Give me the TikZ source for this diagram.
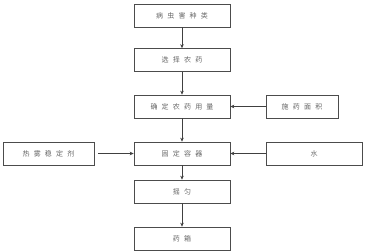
\documentclass[tikz,border=0pt]{standalone}
\usepackage{fontspec}
\newfontfamily\cjk[LetterSpace=60]{Noto Sans CJK SC}
\usetikzlibrary{arrows.meta,positioning}

\begin{document}
\begin{tikzpicture}[x=1pt,y=-1pt]
            \tikzset{
                step box/.style={
                    draw=black!70,
                    line width=0.6pt,
                    minimum width=96pt,
                    minimum height=23pt,
                    align=center,
                    text=black!60,
                    font=\cjk\fontsize{7}{8}\selectfont
                }
            }
            \tikzset{
                flow/.style={
                    -{Stealth[length=4pt,width=3.5pt]},
                    black!75,
                    line width=0.6pt
                }
            }

            \useasboundingbox (0,0) rectangle (365,252);

            \node[step box] (pest) at (182,15.5) {病虫害种类};
            \node[step box] (choose) at (182,60) {选择农药};
            \node[step box] (dose) at (182,106.5) {确定农药用量};
            \node[step box] (fix) at (182,153.5) {固定容器};
            \node[step box] (shake) at (182,191.5) {摇匀};
            \node[step box] (tank) at (182,238.5) {药箱};

            \node[step box,minimum width=72pt] (area) at (302,106.5) {施药面积};
            \node[step box] (water) at (314,153.5) {水};
            \node[step box,minimum width=91pt] (stab) at (48.5,153.5) {热雾稳定剂};

            \draw[flow] (pest) -- (choose);
            \draw[flow] (choose) -- (dose);
            \draw[flow] (dose) -- (fix);
            \draw[flow] (fix) -- (shake);
            \draw[flow] (shake) -- (tank);

            \draw[flow] (area) -- (dose);
            \draw[flow] (water) -- (fix);
            \draw[flow,shorten <=4pt] (stab) -- (fix);
        \end{tikzpicture}
\end{document}
